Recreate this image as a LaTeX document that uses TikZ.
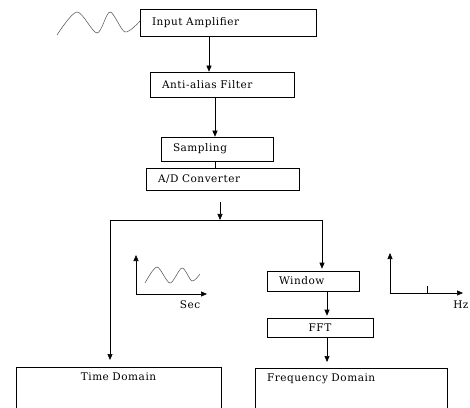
\documentclass[tikz,border=0pt]{standalone}
\usepackage{fontspec}
\setmainfont{DejaVu Serif}[LetterSpace=5]
\usetikzlibrary{arrows.meta}

\tikzset{
  blk/.style={draw, inner xsep=12pt, inner ysep=0pt, align=left},
  dom/.style={draw, inner xsep=12pt, inner ysep=5pt, text depth=50pt, anchor=north},
  arr/.style={-{Triangle[length=6pt,width=5pt]}},
  wave/.style={draw=black!70, line width=0.5pt},
}

\begin{document}
\begin{tikzpicture}[x=1pt,y=1pt,line width=0.6pt,font=\fontsize{10.5}{12}\selectfont]
\useasboundingbox (0,0) rectangle (470,407);
\clip (0,0) rectangle (470,407);

% acquisition chain
\node[blk, text width=152pt, minimum height=27pt] (amp) at (228,384.5) {Input Amplifier};
\node[blk, text width=120pt, minimum height=25pt] (aaf) at (222,322.5) {Anti-alias Filter};
\node[blk, text width=88pt, minimum height=24pt] (smp) at (217,258) {Sampling};
\node[blk, text width=129pt, minimum height=22pt] (adc) at (222.5,228) {A/D Converter};

\draw[wave] plot[smooth] coordinates {(57,372) (77,395) (97,374) (110,395) (125,375) (140,386)};

\draw[arr] ([xshift=-19pt]amp.south) -- ([xshift=-13pt]aaf.north);
\draw[arr] ([xshift=-7pt]aaf.south) -- ([xshift=-2pt]smp.north);
\draw ([xshift=-2pt]smp.south) -- ([xshift=-7.5pt]adc.north);

% split into the two branches
\coordinate (split) at (220,187);
\coordinate (lc) at (110,187);
\coordinate (rc) at (322,187);
\draw[arr] ([xshift=-2.5pt,yshift=-12pt]adc.south) -- (split);
\draw (lc) -- (rc);

\node[blk, text width=68pt, minimum height=20pt] (win) at (313,126) {Window};
\node[blk, align=center, text width=82pt, minimum height=19pt] (fft) at (320,79.5) {FFT};
\node[dom, text width=181pt, align=center] (time) at (118.5,40) {Time Domain};
\node[dom, text width=168pt, align=left] (freq) at (351,39) {Frequency Domain};

\draw[arr, shorten >=7pt] (lc) -- (lc |- time.north);
\draw[arr, shorten >=2pt] (rc) -- (rc |- win.north);
\draw[arr, shorten >=2pt] ([xshift=14pt]win.south) -- ([xshift=7pt]fft.north);
\draw[arr, shorten >=6pt] ([xshift=7pt]fft.south) -- ([xshift=-24pt]freq.north);

% time axis
\coordinate (to) at (136,113);
\draw[arr] (to) -- (136,152);
\draw[arr] (to) -- (207,113);
\node (sec) at (190,102) {Sec};
\draw[wave] plot[smooth] coordinates {(145,124) (157,140) (170,124) (182,139) (192,126) (200,133)};

% frequency axis
\coordinate (fo) at (390,114);
\draw[arr] (fo) -- (390,154);
\draw[arr] (fo) -- (463,114);
\draw (427,114) -- (427,121);
\node[anchor=west, inner xsep=0pt] (hz) at (453,102) {Hz};
\end{tikzpicture}
\end{document}
